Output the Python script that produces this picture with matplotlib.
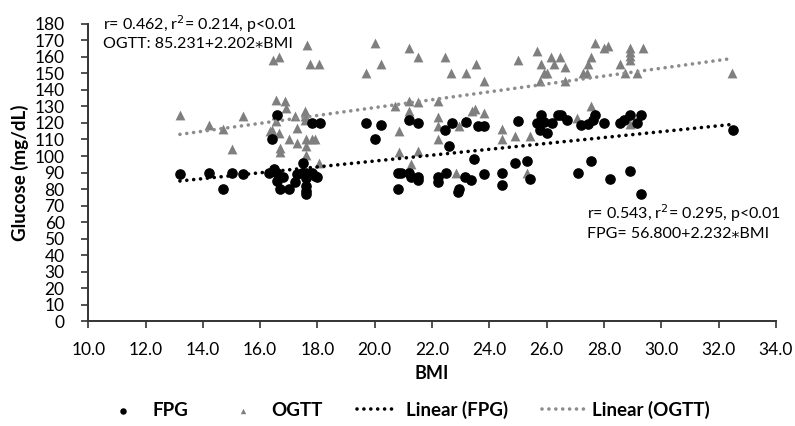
"""Scatter of FPG and OGTT glucose against BMI with linear trendlines"""
import numpy as np
import matplotlib
matplotlib.use('Agg')
import matplotlib.pyplot as plt

plt.rcParams['font.family'] = ['Lato', 'DejaVu Sans']

# FPG readings (BMI, mg/dL)
fpg_bmi = [13.2, 14.2, 14.7, 15.0, 15.4, 16.3, 16.4, 16.5, 16.6, 16.6, 16.6, 16.8,
           16.7, 17.0, 17.2, 17.3, 17.5, 17.45, 17.6, 17.8, 17.6, 17.6, 17.6, 17.6,
           17.9, 18.0, 17.8, 18.1, 19.7, 20.2, 20.0, 20.8, 20.9, 20.8, 21.2, 21.25,
           21.2, 21.5, 21.5, 21.5, 22.2, 22.2, 22.45, 22.5, 22.6, 22.7, 22.9, 22.95,
           23.15, 23.2, 23.35, 23.45, 23.6, 23.8, 23.8, 24.45, 24.45, 24.9, 25.0, 25.3,
           25.4, 25.65, 25.75, 25.8, 25.9, 26.0, 26.2, 26.4, 26.5, 26.7, 27.1, 27.2,
           27.45, 27.55, 27.6, 27.7, 28.0, 28.2, 28.55, 28.7, 28.9, 28.9, 29.15, 29.3,
           29.3, 32.5]
fpg_glu = [89, 90, 80, 90, 89, 90, 110, 92, 90, 85, 125, 87.5,
           80, 80, 84, 89, 96, 90, 90, 90, 86.5, 82, 79, 77,
           88, 87, 120, 120, 120, 119, 110, 90, 90, 80, 90, 87.5,
           122, 120, 87, 85.5, 87.5, 84.4, 115.5, 90, 106, 120, 78.4, 80,
           87, 120.5, 85.5, 98, 118, 118, 89, 89.5, 82.4, 96, 121, 97,
           86, 120, 115.5, 125, 120.5, 114, 120, 124.8, 125, 122, 90, 119,
           119.5, 97, 122, 125, 120, 86, 120, 122, 125, 91, 120, 125,
           77, 116]

# OGTT readings (BMI, mg/dL)
ogtt_bmi = [13.2, 14.2, 14.7, 15.0, 15.4, 16.35, 16.45, 16.65, 16.4, 16.55, 16.55, 16.55,
            16.85, 16.9, 16.65, 16.7, 16.7, 17.0, 17.2, 17.3, 17.3, 17.55, 17.55, 17.55,
            17.6, 17.8, 17.9, 17.6, 17.6, 17.65, 17.75, 18.05, 18.05, 19.7, 20.0, 20.2,
            20.7, 20.85, 20.85, 21.2, 21.5, 21.2, 21.5, 21.2, 21.25, 21.5, 22.2, 22.2,
            22.2, 22.2, 22.45, 22.65, 22.85, 22.95, 23.15, 23.18, 23.4, 23.5, 23.55, 23.8,
            23.8, 24.45, 24.45, 24.9, 25.0, 25.3, 25.4, 25.65, 25.75, 25.8, 25.9, 26.0,
            26.15, 26.25, 26.45, 26.65, 26.65, 27.05, 27.25, 27.4, 27.45, 27.55, 27.55, 27.7,
            28.0, 28.15, 28.55, 28.75, 28.9, 28.9, 28.9, 28.9, 28.9, 29.15, 29.35, 32.45]
ogtt_glu = [125, 119, 116.5, 104, 124, 115, 158, 160, 116, 134, 121, 125,
            133, 129, 113.7, 105, 102.6, 110, 124.5, 117, 108, 127, 124, 121.5,
            110, 110, 110, 106, 100.6, 167.5, 156, 155.5, 96, 150.3, 168.5, 155.4,
            130.3, 115.3, 102.6, 165.3, 160.2, 133.4, 132.7, 127, 95.4, 102.8, 133.4, 123.4,
            118.2, 110.3, 160.2, 150.5, 90, 118.2, 121.2, 150.5, 127.3, 128.3, 155.6, 126.3,
            145.6, 116.6, 110.3, 112.3, 158.2, 90, 112.3, 163.3, 145.6, 155.6, 150.5, 150.5,
            160.2, 155.6, 160.2, 154, 145.3, 123.3, 150.5, 150.5, 155.7, 160.2, 130, 168.5,
            165.3, 166.7, 155.6, 150.5, 165.3, 162.8, 160.4, 158.2, 119.6, 150.5, 165.3, 150.5]

x_ticks = np.arange(10, 34.1, 2)
y_ticks = np.arange(0, 181, 10)


def trend(x, y):
    """Least squares line over the data range"""
    slope, icpt = np.polyfit(x, y, 1)
    xs = np.array([min(x), max(x)])
    return xs, icpt + slope * xs


fig = plt.figure(figsize=(7.95, 4.26), dpi=100)
ax = fig.add_axes([0.111, 0.246, 0.865, 0.698])

dots = (0, (0.01, 1.9))
ax.scatter(fpg_bmi, fpg_glu, s=44, color='black', marker='o', zorder=3, label='FPG')
ax.scatter(ogtt_bmi, ogtt_glu, s=50, color='#7f7f7f', marker='^', linewidths=0,
           zorder=2, label='OGTT')
tx, ty = trend(fpg_bmi, fpg_glu)
ax.plot(tx, ty, color='black', lw=2.6, linestyle=dots,
        dash_capstyle='round', zorder=4, label='Linear (FPG)')
tx, ty = trend(ogtt_bmi, ogtt_glu)
ax.plot(tx, ty, color='#8c8c8c', lw=2.6, linestyle=dots,
        dash_capstyle='round', zorder=4, label='Linear (OGTT)')

ax.set_xlim(10, 34)
ax.set_ylim(0, 180)
ax.set_xticks(x_ticks)
ax.set_xticklabels([f'{v:.1f}' for v in x_ticks])
ax.set_yticks(y_ticks)
ax.tick_params(labelsize=12.5, length=5, width=1.2, color='#333333')
ax.tick_params(axis='y', pad=12)
ax.tick_params(axis='x', pad=10)
for side in ['top', 'right']:
    ax.spines[side].set_visible(False)
for side in ['left', 'bottom']:
    ax.spines[side].set_linewidth(1.4)
    ax.spines[side].set_color('#333333')

ax.set_xlabel('BMI', fontsize=13, fontweight='bold', labelpad=5)
ax.set_ylabel('Glucose (mg/dL)', fontsize=13.5, fontweight='bold', labelpad=4)

ax.text(0.021, 1.0, 'r= 0.462, r$^2$= 0.214, p<0.01', transform=ax.transAxes,
        fontsize=11.5, va='center')
ax.text(0.021, 0.932, 'OGTT: 85.231+2.202\u204eBMI', transform=ax.transAxes,
        fontsize=11.5, va='center')
ax.text(0.725, 0.362, 'r= 0.543, r$^2$= 0.295, p<0.01', transform=ax.transAxes,
        fontsize=11.5, va='center')
ax.text(0.725, 0.292, 'FPG= 56.800+2.232\u204eBMI', transform=ax.transAxes,
        fontsize=11.5, va='center')

fig.legend(loc='center', bbox_to_anchor=(0.511, 0.038), ncol=4, frameon=False,
           prop={'size': 13.5, 'weight': 'bold'}, markerscale=0.55,
           handlelength=2.2, columnspacing=1.8, handletextpad=0.45)

plt.savefig('out.png', dpi=100)
